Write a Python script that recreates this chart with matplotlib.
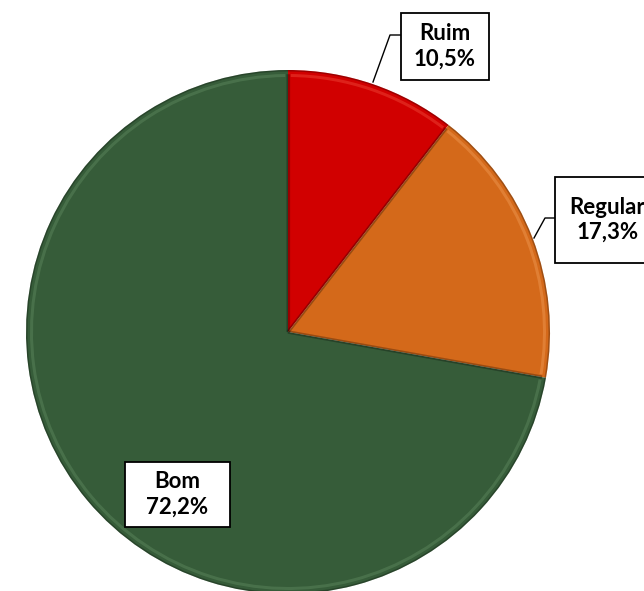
import matplotlib.pyplot as plt
from matplotlib.patches import Wedge, Rectangle
import numpy as np

labels = ["Ruim", "Regular", "Bom"]
values = [10.5, 17.3, 72.2]
colors = ["#d10000", "#d4691a", "#365c39"]
highlights = ["#f04a3a", "#f09a55", "#5f8a5f"]
label_text = ["10,5%", "17,3%", "72,2%"]

W, H = 644, 591
cx, cy, r = 288, H - 332, 262

fig = plt.figure(figsize=(W / 100, H / 100), dpi=100, facecolor="white")
ax = fig.add_axes([0, 0, 1, 1])

wedges, _ = ax.pie(values, colors=colors, startangle=90, counterclock=False,
                   center=(cx, cy), radius=r, frame=True,
                   wedgeprops=dict(linewidth=0))
ax.set_xlim(0, W)
ax.set_ylim(0, H)
ax.set_aspect("equal")
ax.axis("off")

# soft bevel along the edges of each slice
for w, hc in zip(wedges, highlights):
    th1, th2 = w.theta1, w.theta2
    ax.add_patch(Wedge((cx, cy), r - 4, th1 + 0.6, th2 - 0.6, width=3,
                       facecolor=hc, edgecolor="none", alpha=0.45))
    ax.add_patch(Wedge((cx, cy), r, th1, th2, width=1.5,
                       facecolor="black", edgecolor="none", alpha=0.25))
    for th in (th1, th2):
        a = np.deg2rad(th)
        ax.plot([cx, cx + (r - 4) * np.cos(a)], [cy, cy + (r - 4) * np.sin(a)],
                color="black", alpha=0.15, lw=2.5, solid_capstyle="butt")

# label boxes (x0, y0, x1, y1 in pixels from the top-left)
boxes = [(401, 13, 489, 80), (555, 177, 660, 263), (125, 462, 230, 527)]
leaders = [[(401, 35), (390, 35), (373, 82)],
           [(555, 218), (545, 218), (534, 238)],
           None]

for name, txt, (x0, y0, x1, y1), ld in zip(labels, label_text, boxes, leaders):
    ax.add_patch(Rectangle((x0, H - y1), x1 - x0, y1 - y0, facecolor="white",
                           edgecolor="black", lw=1.3, zorder=5, clip_on=False))
    ax.text((x0 + x1) / 2, H - (y0 + y1) / 2, name + "\n" + txt,
            ha="center", va="center", fontsize=16, fontweight="bold",
            family="Lato", linespacing=1.25, zorder=6, clip_on=False)
    if ld:
        ax.plot([p[0] for p in ld], [H - p[1] for p in ld],
                color="black", lw=1, zorder=4)

fig.savefig("out.png", dpi=100, facecolor="white")
